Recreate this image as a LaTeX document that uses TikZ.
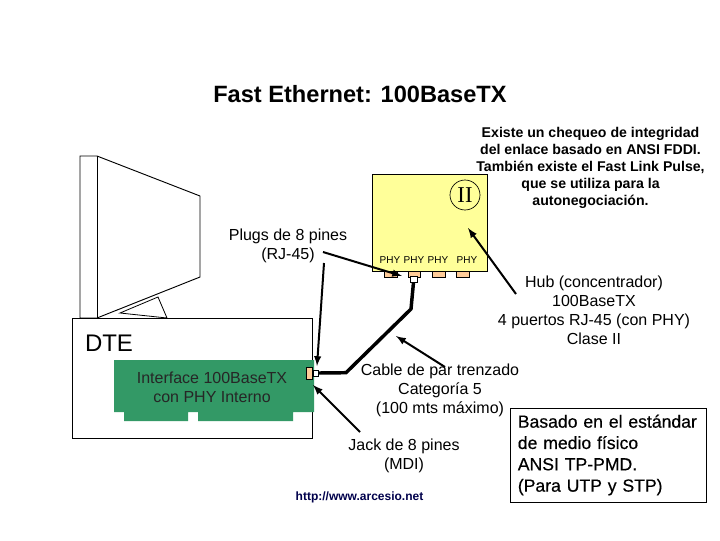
\documentclass[tikz,border=0pt]{standalone}
\usepackage{fontspec}
\setmainfont{Liberation Sans}
\newfontfamily\romanii{Liberation Serif}
\newfontfamily\medsans[FakeBold=0.4]{Liberation Sans}
\usepackage{tikz}
\usetikzlibrary{positioning}
\usepackage{xcolor}
\definecolor{hubyellow}{RGB}{255, 255, 153}
\definecolor{cardgreen}{RGB}{51, 153, 102}
\definecolor{plugtan}{RGB}{255, 204, 153}
\tikzset{
  lbl/.style={font=\fontsize{12pt}{14.25pt}\selectfont,align=center,inner sep=0pt},
  bolda/.style={font=\bfseries\fontsize{10.6pt}{12.75pt}\selectfont,align=center,inner sep=0pt},
  port/.style={draw=black,line width=.3pt,fill=plugtan,minimum width=9.4pt,minimum height=4.5pt,inner sep=0pt},
  phy/.style={font=\fontsize{7.5pt}{9pt}\selectfont,inner sep=0pt},
  pointer/.style={-latex,line width=1.5pt},
}
\begin{document}
\begin{tikzpicture}[x=.75pt,y=-.75pt]
\useasboundingbox[fill=white] (0,0) rectangle (720,540);
% monitor
\draw[line width=.7pt] (80,156)--(97,156)--(200,196)--(200,277)--(97,318)--(80,318)--cycle;
\draw[line width=.7pt] (97,156)--(97,318);
\draw[line width=.6pt] (120,313)--(158,297)--(167,318)--cycle;
% DTE box
\node[draw=black,line width=.7pt,minimum width=180pt,minimum height=90pt,inner sep=0pt,fill=white] (dte) at (192,378) {};
\node[font=\fontsize{18pt}{20pt}\selectfont,inner sep=0pt] (dtelabel) at (109,343) {DTE};
% card
\fill[cardgreen] (114,360)--(314,360)--(314,412)--(293,412)--(293,421)--(198,421)--(198,412)--(188,412)--(188,421)--(124,421)--(124,412)--(114,412)--cycle;
\node[lbl,text=black!85] (card) at (212,387.5) {Interface 100BaseTX\\con PHY Interno};
% hub
\node[draw=black,line width=.7pt,fill=hubyellow,minimum width=86pt,minimum height=72.75pt,inner sep=0pt,anchor=north west] (hub) at (372,174) {};
\node[draw=black,line width=.5pt,circle,minimum size=22.5pt,inner sep=0pt,font=\romanii\fontsize{17pt}{17pt}\selectfont] (two) at (465,195) {II};
\node[phy] (phya) at (390,260) {PHY};
\node[phy] (phyb) at (414,260) {PHY};
\node[phy] (phyc) at (438,260) {PHY};
\node[phy] (phyd) at (467,260) {PHY};
\node[port] (porta) at (390.5,274) {};
\node[port] (portb) at (414,274) {};
\node[port] (portc) at (438.5,274) {};
\node[port] (portd) at (462.5,274) {};
% plugs
\node[draw=black,line width=.4pt,fill=white,minimum width=5pt,minimum height=4.5pt,inner sep=0pt] (plughub) at (413.5,279) {};
\node[draw=black,line width=.4pt,fill=plugtan,minimum width=4.5pt,minimum height=9pt,inner sep=0pt] (jack) at (309.7,373) {};
\node[draw=black,line width=.4pt,fill=white,minimum width=4pt,minimum height=4.5pt,inner sep=0pt] (plugdte) at (315.5,373) {};
% cable
\coordinate (benda) at (411,309);
\coordinate (bendb) at (346,372.7);
\draw[line width=2.6pt] (plughub.south)--(benda)--(bendb)--(plugdte.east);
% texts
\node[font=\bfseries\fontsize{17.7pt}{20pt}\selectfont,inner sep=0pt] (title) at (360,94.5) {Fast Ethernet: 100BaseTX};
\node[bolda] (note) at (590.5,167.5) {Existe un chequeo de integridad\\del enlace basado en ANSI FDDI.\\También existe el Fast Link Pulse,\\que se utiliza para la\\autonegociación.};
\node[lbl] (plugs) at (288,246) {Plugs de 8 pines\\(RJ-45)};
\node[lbl] (hubtxt) at (594,310.5) {Hub (concentrador)\\100BaseTX\\4 puertos RJ-45 (con PHY)\\Clase II};
\node[lbl] (cable) at (440,390.5) {Cable de par trenzado\\Categoría 5\\(100 mts máximo)};
\node[lbl] (jacktxt) at (404,456) {Jack de 8 pines\\(MDI)};
\node[font=\bfseries\fontsize{9pt}{10pt}\selectfont,text=black!70!blue,inner sep=0pt] (url) at (359.5,497) {http://www.arcesio.net};
\node[draw=black,line width=.7pt,fill=white,font=\medsans\fontsize{13.2pt}{16pt}\selectfont,align=left,inner sep=0pt,minimum width=146.5pt,minimum height=70.5pt,text width=136pt] (std) at (608.5,455) {Basado en el estándar\\de medio físico\\ANSI TP-PMD.\\(Para UTP y STP)};
% pointers
\coordinate (pa) at (323,252); \coordinate (pb) at (402,276);
\draw[pointer] (pa)--(pb);
\coordinate (qa) at (324,263); \coordinate (qb) at (317,366);
\draw[pointer] (qa)--(qb);
\coordinate (ra) at (516,294); \coordinate (rb) at (468,228);
\draw[pointer] (ra)--(rb);
\coordinate (sa) at (445,367); \coordinate (sb) at (396,336);
\draw[pointer] (sa)--(sb);
\coordinate (ta) at (360,432); \coordinate (tb) at (313,385);
\draw[pointer] (ta)--(tb);
\end{tikzpicture}
\end{document}
